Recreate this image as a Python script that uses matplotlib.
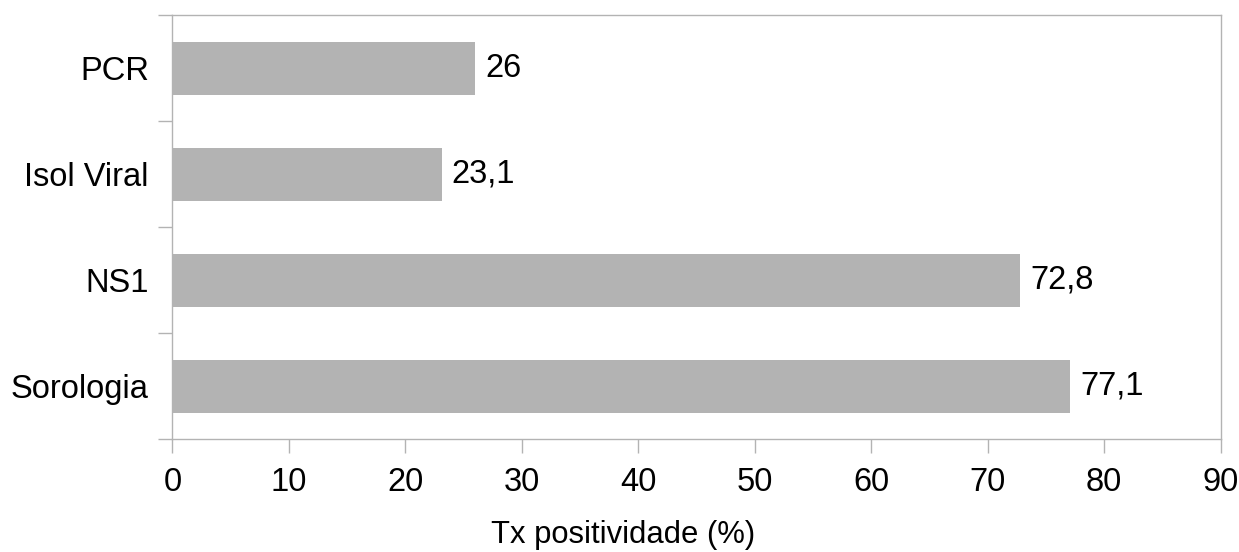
import numpy as np
import matplotlib.pyplot as plt
from matplotlib.ticker import FixedLocator

plt.rcParams['font.family'] = ['Liberation Sans', 'DejaVu Sans']

categories = ['Sorologia', 'NS1', 'Isol Viral', 'PCR']
values = [77.1, 72.8, 23.1, 26]
value_labels = ['77,1', '72,8', '23,1', '26']
x_ticks = [0, 10, 20, 30, 40, 50, 60, 70, 80, 90]

GRAY = '#b3b3b3'

fig = plt.figure(figsize=(12.39, 5.52), dpi=100)
ax = fig.add_axes([0.1392, 0.2042, 0.8460, 0.7686])

y = np.arange(len(categories))
bars = ax.barh(y, values, height=0.5, color=GRAY, zorder=2)

for bar, lab in zip(bars, value_labels):
    ax.annotate(lab, (bar.get_width(), bar.get_y() + bar.get_height() / 2),
                xytext=(7, 0), textcoords='offset points',
                va='center', ha='left', fontsize=23.5, color='black')

ax.set_xlim(0, 90)
ax.set_ylim(-0.5, len(categories) - 0.5)
ax.set_xticks(x_ticks)
ax.set_xticklabels([str(t) for t in x_ticks])
ax.set_yticks(y)
ax.set_yticklabels(categories)
ax.yaxis.set_minor_locator(FixedLocator(np.arange(len(categories) + 1) - 0.5))

ax.tick_params(axis='y', which='major', length=0, pad=17, labelsize=23.5)
ax.tick_params(axis='y', which='minor', length=10, width=1, color=GRAY)
ax.tick_params(axis='x', which='major', length=10, width=1, color=GRAY,
               pad=10, labelsize=23.5)

for s in ax.spines.values():
    s.set_color(GRAY)
    s.set_linewidth(1)

# axis title sits centred on the figure, not on the plot area
fig.text(0.503, 0.004, 'Tx positividade (%)', fontsize=22.3,
         ha='center', va='bottom')

fig.savefig('out.png', dpi=100)
